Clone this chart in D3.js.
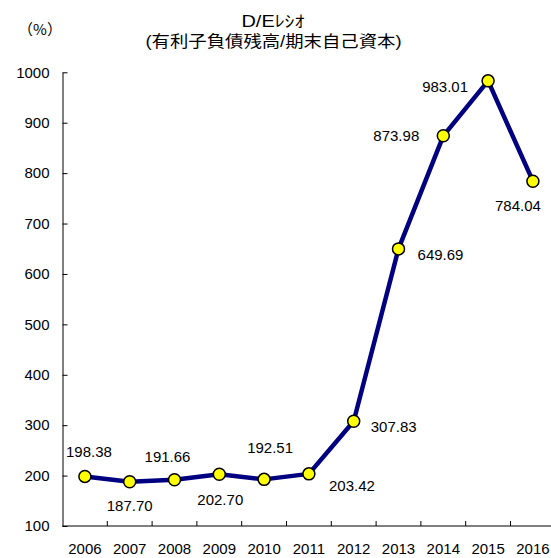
<!DOCTYPE html>
<html>
<head>
<meta charset="utf-8">
<script src="https://cdn.jsdelivr.net/npm/d3@7"></script>
<style>
  body { margin: 0; background: #fff; }
  text { font-family: "Liberation Sans", Arial, sans-serif; fill: #000; }
  .jp { font-family: "Liberation Sans", "Noto Sans CJK JP", sans-serif; }
  .unit { font-family: "Noto Sans CJK JP", sans-serif; }
</style>
</head>
<body>
<div id="chart"></div>
<script>
// data
const years = ['2006', '2007', '2008', '2009', '2010', '2011', '2012', '2013', '2014', '2015', '2016'];
const ratios = [198.38, 187.70, 191.66, 202.70, 192.51, 203.42, 307.83, 649.69, 873.98, 983.01, 784.04];
const yTicks = [100, 200, 300, 400, 500, 600, 700, 800, 900, 1000];
// label offset from point (dx, dy baseline)
const labelOffsets = [
  [4, -19], [0, 29], [-7, -18], [1, 31], [6, -26], [43, 17],
  [40, 11], [42, 11], [-47, 5], [-43, 11], [-15, 30]
];

const W = 551, H = 558;
const plotLeft = 62.5, plotTop = 72.3, plotBottom = 526;

const svg = d3.select('#chart').append('svg')
  .attr('width', W).attr('height', H);

const x = d3.scaleBand().domain(years).range([plotLeft, plotLeft + 11 * 44.8]);
const y = d3.scaleLinear().domain([100, 1000]).range([plotBottom, plotTop]);

// title
svg.append('text').attr('class', 'jp')
  .attr('x', 273).attr('y', 27)
  .attr('text-anchor', 'middle')
  .style('font-size', '16px')
  .attr('textLength', 63).attr('lengthAdjust', 'spacingAndGlyphs')
  .text('D/Eﾚｼｵ');
svg.append('text').attr('class', 'jp')
  .attr('x', 273.5).attr('y', 47)
  .attr('text-anchor', 'middle')
  .style('font-size', '16px')
  .attr('textLength', 256).attr('lengthAdjust', 'spacingAndGlyphs')
  .text('(有利子負債残高/期末自己資本)');

// unit
svg.append('text').attr('class', 'unit')
  .attr('x', 40).attr('y', 35)
  .attr('text-anchor', 'middle')
  .style('font-size', '15px')
  .text('（%）');

// y axis
const yAxis = svg.append('g')
  .attr('transform', `translate(${plotLeft},0)`)
  .call(d3.axisLeft(y).tickValues(yTicks).tickFormat(d3.format('d'))
    .tickSizeInner(-5).tickSizeOuter(0).tickPadding(13));
yAxis.select('.domain').attr('stroke', '#000');
yAxis.selectAll('.tick line').attr('stroke', '#000');
yAxis.selectAll('text').style('font-size', '15px');
yAxis.attr('font-family', null).attr('font-size', null);

// x axis
const xTickPos = years.slice(1).map((d) => x(d));
const xAxisG = svg.append('g').attr('transform', `translate(0,${plotBottom})`);
xAxisG.append('line')
  .attr('x1', plotLeft).attr('x2', W).attr('y1', 0).attr('y2', 0)
  .attr('stroke', '#000');
xAxisG.selectAll('line.tk').data(xTickPos).join('line')
  .attr('class', 'tk')
  .attr('x1', (d) => d).attr('x2', (d) => d)
  .attr('y1', 0).attr('y2', -5)
  .attr('stroke', '#000');
xAxisG.selectAll('text').data(years).join('text')
  .attr('x', (d) => x(d) + x.bandwidth() / 2)
  .attr('y', 28)
  .attr('text-anchor', 'middle')
  .style('font-size', '15px')
  .text((d) => d);

// line
const pts = years.map((d, i) => ({ year: d, v: ratios[i], off: labelOffsets[i] }));
const cx = (d) => x(d.year) + x.bandwidth() / 2;

svg.append('path')
  .datum(pts)
  .attr('fill', 'none')
  .attr('stroke', '#000080')
  .attr('stroke-width', 4.5)
  .attr('stroke-linejoin', 'round')
  .attr('d', d3.line().x(cx).y((d) => y(d.v)));

svg.selectAll('circle').data(pts).join('circle')
  .attr('cx', cx)
  .attr('cy', (d) => y(d.v))
  .attr('r', 6)
  .attr('fill', '#ffff00')
  .attr('stroke', '#000')
  .attr('stroke-width', 1.5);

svg.selectAll('text.lbl').data(pts).join('text')
  .attr('class', 'lbl')
  .attr('x', (d) => cx(d) + d.off[0])
  .attr('y', (d) => y(d.v) + d.off[1])
  .attr('text-anchor', 'middle')
  .style('font-size', '15px')
  .text((d) => d.v.toFixed(2));
</script>
</body>
</html>
